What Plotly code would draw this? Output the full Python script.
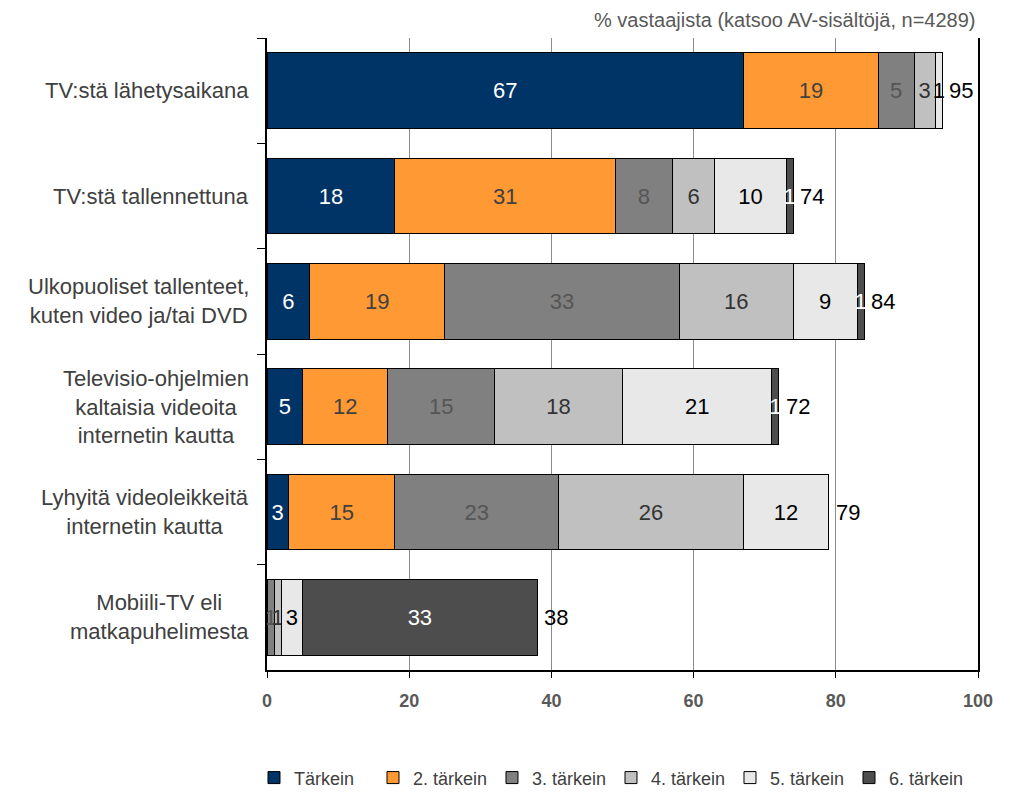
import plotly.graph_objects as go

# categories (top to bottom)
categories = [
    "TV:stä lähetysaikana",
    "TV:stä tallennettuna",
    "Ulkopuoliset tallenteet,<br>kuten video ja/tai DVD",
    "Televisio-ohjelmien<br>kaltaisia videoita<br>internetin kautta",
    "Lyhyitä videoleikkeitä<br>internetin kautta",
    "Mobiili-TV eli<br>matkapuhelimesta",
]

series_names = ["Tärkein", "2. tärkein", "3. tärkein", "4. tärkein", "5. tärkein", "6. tärkein"]

tarkein = [67, 18, 6, 5, 3, 0]
tarkein_2 = [19, 31, 19, 12, 15, 0]
tarkein_3 = [5, 8, 33, 15, 23, 1]
tarkein_4 = [3, 6, 16, 18, 26, 1]
tarkein_5 = [1, 10, 9, 21, 12, 3]
tarkein_6 = [0, 1, 1, 1, 0, 33]

totals = [95, 74, 84, 72, 79, 38]

x_ticks = [0, 20, 40, 60, 80, 100]

series_values = [tarkein, tarkein_2, tarkein_3, tarkein_4, tarkein_5, tarkein_6]
colors = ["#003366", "#FF9933", "#808080", "#C0C0C0", "#E8E8E8", "#4D4D4D"]
text_colors = ["white", "#404040", "#555555", "#333333", "black", "white"]

FONT = "Liberation Sans, Arial, sans-serif"

fig = go.Figure()

for name, vals, col, tcol in zip(series_names, series_values, colors, text_colors):
    fig.add_trace(go.Bar(
        y=categories, x=vals, name=name, orientation="h",
        marker=dict(color=col, line=dict(color="black", width=1)),
        text=[str(v) if v else "" for v in vals],
        textposition="inside", insidetextanchor="middle",
        textfont=dict(size=22, color=tcol, family=FONT),
        constraintext="none",
        hoverinfo="x+name",
    ))

annotations = []
# totals next to the bars
for cat, tot in zip(categories, totals):
    annotations.append(dict(
        x=tot, y=cat, xref="x", yref="y", text=str(tot), showarrow=False,
        xanchor="left", xshift=5, font=dict(size=22, color="black", family=FONT),
    ))
# centred category labels
for cat in categories:
    annotations.append(dict(
        x=0, y=cat, xref="paper", yref="y", text=cat, showarrow=False,
        xanchor="right", xshift=-16, align="center",
        font=dict(size=22, color="#404040", family=FONT),
    ))
annotations.append(dict(
    text="% vastaajista (katsoo AV-sisältöjä, n=4289)",
    xref="paper", yref="paper", x=1.0, y=1.0, xanchor="right", yanchor="bottom",
    yshift=5, showarrow=False, font=dict(size=20, color="#595959", family=FONT),
))

fig.update_layout(
    barmode="stack",
    bargap=0.28,
    width=1002, height=784,
    margin=dict(l=259, r=32, t=30, b=122, autoexpand=False),
    plot_bgcolor="white", paper_bgcolor="white",
    font=dict(family=FONT, color="#333333"),
    uniformtext=dict(minsize=22, mode="show"),
    showlegend=True,
    legend=dict(
        orientation="h", xref="container", x=0.2455, xanchor="left",
        yref="container", y=0.018, yanchor="middle",
        font=dict(size=18, color="#404040"), traceorder="normal",
        entrywidth=74, entrywidthmode="pixels",
    ),
    annotations=annotations,
)

fig.update_xaxes(
    range=[0, 100], tickvals=x_ticks, showgrid=True, gridcolor="#8C8C8C", gridwidth=1,
    showline=True, linecolor="black", linewidth=1.5, ticks="outside", ticklen=6,
    tickcolor="black", zeroline=False, ticklabelstandoff=8,
    tickfont=dict(size=18, color="#595959", family="Liberation Sans, Arial", weight="bold"),
)
fig.update_yaxes(
    autorange="reversed", showline=True, linecolor="black", linewidth=1.5, mirror=True,
    ticks="outside", tickson="boundaries", ticklen=8, tickcolor="black",
    showticklabels=False, showgrid=False,
)

fig.write_html("out.html")
